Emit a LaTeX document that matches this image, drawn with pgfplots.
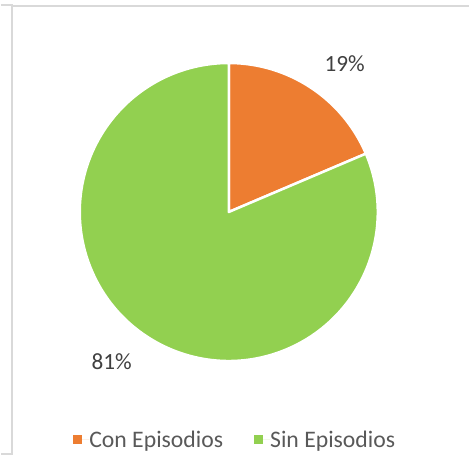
\documentclass[border=0pt]{standalone}
\usepackage{pgfplots}
\pgfplotsset{compat=1.18}
\usepackage{pgfplotstable}
\usepackage{fontspec}
\setmainfont{Carlito}
\definecolor{conep}{HTML}{ED7D31}
\definecolor{sinep}{HTML}{92D050}
\definecolor{lbl}{HTML}{404040}
\definecolor{leg}{HTML}{595959}
\definecolor{frame}{HTML}{D9D9D9}
\pgfplotstableread{
name share
Con 18.6
Sin 81.4
}\piedata
\begin{document}
\begin{tikzpicture}
\pgfplotstablegetelem{0}{share}\of\piedata \let\shareA\pgfplotsretval
\pgfplotstablegetelem{1}{share}\of\piedata \let\shareB\pgfplotsretval
\pgfmathsetmacro{\angA}{90-3.6*\shareA}
\pgfmathsetmacro{\angB}{\angA-3.6*\shareB}
\begin{axis}[
  scale only axis, width=468bp, height=473bp,
  xmin=0, xmax=468, ymin=0, ymax=473,
  hide axis, clip=false,
  legend columns=2,
  legend style={at={(axis cs:233.5,33)}, anchor=center, draw=none, fill=none,
    font=\fontsize{23.7bp}{28bp}\selectfont\color{leg},
    /tikz/every even column/.append style={column sep=31bp},
    nodes={inner sep=0pt},
    inner sep=0pt},
  legend cell align=left,
  legend image code/.code={\fill[#1] (0bp,-4.5bp) rectangle (9bp,4.5bp); \path (0bp,0bp) -- (16bp,0bp);},
]
\path (axis cs:0,0) rectangle (axis cs:468,473);
% frame
\draw[frame, line width=1.5bp] (axis cs:0,468) -- (axis cs:11,468) -- (axis cs:11,19) -- (axis cs:0,19);
\draw[frame, line width=1.5bp] (axis cs:11,467) -- (axis cs:468,467);
% slices
\fill[conep, draw=white, line width=2.5bp, line join=round] (axis cs:228,261) -- ++(90:149bp) arc[start angle=90, end angle=\angA, radius=149bp] -- cycle;
\fill[sinep, draw=white, line width=2.5bp, line join=round] (axis cs:228,261) -- ++(\angA:149bp) arc[start angle=\angA, end angle=\angB, radius=149bp] -- cycle;
% labels
\node[font=\fontsize{23.2bp}{28bp}\selectfont, text=lbl] at (axis cs:344,409) {19\%};
\node[font=\fontsize{23.2bp}{28bp}\selectfont, text=lbl] at (axis cs:111,111) {81\%};
\addlegendimage{fill=conep, draw=none}
\addlegendentry{Con Episodios}
\addlegendimage{fill=sinep, draw=none}
\addlegendentry{Sin Episodios}
\end{axis}
\end{tikzpicture}
\end{document}
